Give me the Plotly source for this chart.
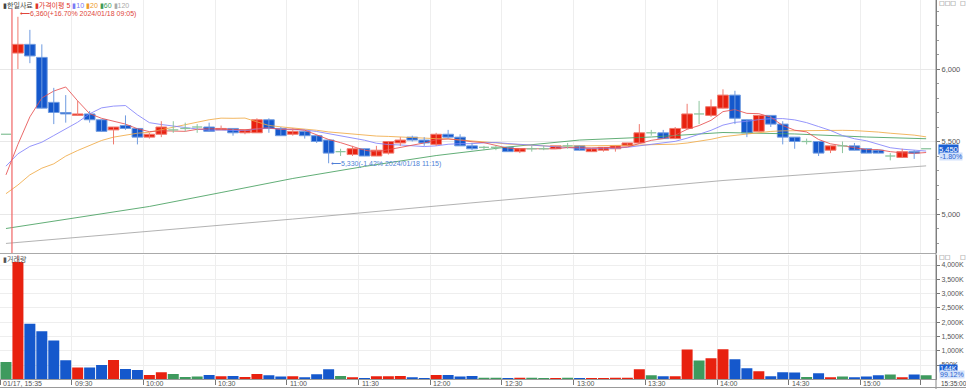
import plotly.graph_objects as go
import pandas as pd

W, H = 966, 389

# ---------------- data ----------------
bar_times = (["01/17, 15:35"]
             + [f"{h:02d}:{m:02d}" for h in range(9, 16) for m in range(0, 60, 5)
                if (9, 5) <= (h, m) <= (15, 20)]
             + ["15:30"])

tick_labels = ["01/17, 15:35", "09:30", "10:00", "10:30", "11:00", "11:30", "12:00",
               "12:30", "13:00", "13:30", "14:00", "14:30", "15:00", "15:30"]
hidden_ticks = ["15:30"]

opens = [5550, 6110, 6170, 6080, 5770, 5700, 5680, 5690, 5650, 5580,
         5610, 5590, 5530, 5550, 5580, 5590, 5600, 5600, 5580, 5590,
         5560, 5560, 5650, 5590, 5550, 5570, 5540, 5510, 5430, 5410,
         5450, 5400, 5420, 5490, 5530, 5510, 5480, 5550, 5530, 5470,
         5460, 5460, 5460, 5430, 5450, 5450, 5450, 5470, 5470, 5430,
         5440, 5450, 5470, 5490, 5560, 5560, 5520, 5590, 5690, 5680,
         5730, 5820, 5650, 5570, 5680, 5620, 5530, 5500, 5500, 5440,
         5470, 5470, 5450, 5440, 5400, 5390, 5430, 5450]
highs = [5550, 6360, 6270, 6170, 5870, 5820, 5780, 5710, 5650, 5600,
         5680, 5590, 5560, 5640, 5640, 5630, 5620, 5630, 5610, 5590,
         5580, 5660, 5660, 5600, 5590, 5570, 5540, 5510, 5450, 5470,
         5450, 5470, 5500, 5530, 5540, 5530, 5560, 5580, 5550, 5490,
         5470, 5470, 5460, 5450, 5470, 5470, 5470, 5490, 5470, 5450,
         5460, 5470, 5490, 5620, 5580, 5580, 5600, 5760, 5780, 5790,
         5860, 5850, 5650, 5680, 5680, 5640, 5530, 5520, 5500, 5470,
         5500, 5490, 5450, 5440, 5420, 5450, 5440, 5450]
lows = [5550, 6000, 6040, 5730, 5620, 5630, 5680, 5630, 5570, 5480,
        5580, 5480, 5520, 5530, 5560, 5570, 5560, 5570, 5580, 5540,
        5550, 5560, 5560, 5540, 5540, 5520, 5490, 5350, 5400, 5400,
        5400, 5400, 5410, 5470, 5500, 5470, 5470, 5520, 5470, 5440,
        5440, 5440, 5430, 5420, 5430, 5440, 5450, 5450, 5440, 5430,
        5430, 5430, 5470, 5490, 5540, 5520, 5520, 5590, 5620, 5670,
        5730, 5620, 5530, 5570, 5600, 5480, 5450, 5480, 5400, 5420,
        5420, 5440, 5420, 5420, 5370, 5390, 5380, 5450]
closes = [5550, 6170, 6090, 5730, 5700, 5690, 5690, 5650, 5570, 5600,
          5590, 5530, 5550, 5600, 5580, 5590, 5600, 5570, 5590, 5560,
          5580, 5650, 5590, 5540, 5570, 5540, 5500, 5420, 5430, 5450,
          5400, 5440, 5500, 5510, 5510, 5490, 5550, 5530, 5470, 5450,
          5460, 5460, 5430, 5450, 5450, 5450, 5470, 5470, 5440, 5450,
          5460, 5470, 5490, 5560, 5560, 5520, 5590, 5690, 5690, 5740,
          5820, 5660, 5560, 5680, 5620, 5530, 5500, 5500, 5420, 5470,
          5470, 5440, 5420, 5420, 5400, 5430, 5420, 5450]
volumes_k = [608, 4107, 1942, 1685, 1357, 667, 410, 410, 503, 679,
             363, 328, 152, 246, 187, 82, 94, 152, 105, 117,
             82, 187, 140, 94, 105, 70, 175, 351, 117, 70,
             47, 105, 105, 117, 70, 47, 152, 152, 94, 117,
             58, 58, 35, 58, 58, 35, 35, 58, 35, 35,
             35, 58, 58, 351, 140, 105, 105, 1041, 655, 737,
             1053, 702, 386, 281, 105, 246, 234, 82, 211, 70,
             94, 70, 94, 140, 164, 70, 164, 144]

# moving-average values before enough bars are on screen
ma5_head = [5270, 5480, 5670, 5800]
ma10_head = [5330, 5415, 5466, 5495, 5541, 5585, 5633, 5691, 5732]
ma20_head = [5140, 5200, 5270, 5316, 5346, 5399, 5438, 5472, 5507, 5530,
             5546, 5557, 5564, 5580, 5599, 5615, 5633, 5650, 5661]
ma60_bars = [0, 6, 12, 18, 24, 30, 36, 42, 48, 54, 60, 66, 72, 77]
ma60_vals = [4900, 4976, 5052, 5148, 5245, 5328, 5403, 5462, 5510, 5531, 5562, 5552, 5531, 5519]
ma120_bars = [0, 12, 24, 36, 48, 60, 72, 77]
ma120_vals = [4797, 4880, 4965, 5055, 5145, 5231, 5302, 5332]

high_note = "⟵6,360(+16.70% 2024/01/18 09:05)"
low_note = "⟵5,330(-1.42% 2024/01/18 11:15)"
last_price_text = "5,450"
last_change_text = "-1.80%"
last_vol_text = "144K"
last_vol_ratio_text = "99.12%"
last_time_text = "15:35:00"
corner_marks = ["□□□", "□", "□□", "□"]

# ---------------- styling ----------------
RED, RED_L = "#e8210f", "#f07a6e"
BLUE, BLUE_L = "#1558cc", "#6f9be0"
GREEN, GREEN_L = "#3e9a5e", "#8cc59e"
FONT = "Liberation Sans, Noto Sans CJK KR, sans-serif"

n = len(closes)
xc = [i + 0.5 for i in range(n)]


def kind(i):
    if closes[i] > opens[i]:
        return "up"
    if closes[i] < opens[i]:
        return "down"
    return "flat"


kinds = [kind(i) for i in range(n)]
fill_of = {"up": RED, "down": BLUE, "flat": GREEN}
edge_of = {"up": RED_L, "down": BLUE_L, "flat": GREEN_L}

cs = pd.Series(closes, dtype=float)
ma5 = ma5_head + list(cs.rolling(5).mean().iloc[len(ma5_head):])
ma10 = ma10_head + list(cs.rolling(10).mean().iloc[len(ma10_head):])
ma20 = ma20_head + list(cs.rolling(20).mean().iloc[len(ma20_head):])

fig = go.Figure()

# MA lines
ma_specs = [
    (ma120_vals, "rgba(170,170,170,0.9)", [b + 0.5 for b in ma120_bars]),
    (ma60_vals, "rgba(70,160,95,0.85)", [b + 0.5 for b in ma60_bars]),
    (ma20, "rgba(240,170,70,0.85)", xc),
    (ma10, "rgba(130,130,250,0.85)", xc),
    (ma5, "rgba(230,80,80,0.85)", xc),
]
for vals, col, xs in ma_specs:
    fig.add_trace(go.Scatter(x=xs, y=vals, mode="lines", line=dict(color=col, width=1),
                             hoverinfo="skip", showlegend=False, xaxis="x", yaxis="y"))

# wicks
for k in ["up", "down", "flat"]:
    wx, wy = [], []
    for i in range(n):
        if kinds[i] == k and highs[i] > lows[i]:
            wx += [xc[i], xc[i], None]
            wy += [lows[i], highs[i], None]
    fig.add_trace(go.Scatter(x=wx, y=wy, mode="lines", line=dict(color=edge_of[k], width=1),
                             hoverinfo="skip", showlegend=False, xaxis="x", yaxis="y"))

# doji bars
dx, dy = [], []
for i in range(n):
    if kinds[i] == "flat":
        dx += [xc[i] - 0.42, xc[i] + 0.42, None]
        dy += [opens[i], opens[i], None]
fig.add_trace(go.Scatter(x=dx, y=dy, mode="lines", line=dict(color=GREEN_L, width=1.3),
                         hoverinfo="skip", showlegend=False, xaxis="x", yaxis="y"))

# bodies
bi = [i for i in range(n) if kinds[i] != "flat"]
fig.add_trace(go.Bar(
    x=[xc[i] for i in bi],
    y=[abs(closes[i] - opens[i]) for i in bi],
    base=[min(opens[i], closes[i]) for i in bi],
    width=0.9,
    marker=dict(color=[fill_of[kinds[i]] for i in bi],
                line=dict(color=[edge_of[kinds[i]] for i in bi], width=1)),
    hoverinfo="skip", showlegend=False, xaxis="x", yaxis="y"))

# volume
fig.add_trace(go.Bar(
    x=xc, y=volumes_k, width=0.92,
    marker=dict(color=[fill_of[k] for k in kinds], line=dict(width=0)),
    hoverinfo="skip", showlegend=False, xaxis="x2", yaxis="y2"))

# ---------------- layout ----------------
X_RIGHT = 936
BAR_PX = 11.95
xr = [0, X_RIGHT / BAR_PX]
PRICE_BOTTOM_PX = 253
VOL_TOP_PX, VOL_BOTTOM_PX = 255, 379.3
VOL_MAX = 4000 * (VOL_BOTTOM_PX - VOL_TOP_PX) / (VOL_BOTTOM_PX - 265)


def pyf(px):
    return 1 - px / H


tickvals = [bar_times.index(t) for t in tick_labels]

axis_font = dict(family=FONT, size=7.5, color="#555")

fig.update_layout(
    width=W, height=H, margin=dict(l=0, r=0, t=0, b=0),
    paper_bgcolor="white", plot_bgcolor="white",
    barmode="overlay", showlegend=False,
    font=dict(family=FONT, size=8, color="#555"),
    xaxis=dict(domain=[0, X_RIGHT / W], range=xr, anchor="y", tickvals=tickvals,
               showticklabels=False, ticks="", showgrid=True, gridcolor="#eeeeee",
               gridwidth=1, zeroline=False, showline=False, fixedrange=True),
    xaxis2=dict(domain=[0, X_RIGHT / W], range=xr, anchor="y2", tickvals=tickvals,
                showticklabels=False, ticks="outside", ticklen=5, tickcolor="#777",
                showgrid=True, gridcolor="#eeeeee", zeroline=False,
                showline=True, linecolor="#999", linewidth=1),
    yaxis=dict(domain=[pyf(PRICE_BOTTOM_PX), 1],
               range=[6000 - (PRICE_BOTTOM_PX - 69) / 0.145, 6000 + 69 / 0.145],
               side="right", anchor="x", tick0=0, dtick=500, tickformat=",",
               ticks="outside", ticklen=3, tickcolor="#777", tickfont=axis_font,
               minor=dict(dtick=100, ticklen=2, tickcolor="#999", showgrid=False),
               showgrid=True, gridcolor="#e8e8e8", zeroline=False,
               showline=True, linecolor="#777"),
    yaxis2=dict(domain=[pyf(VOL_BOTTOM_PX), pyf(VOL_TOP_PX)],
                range=[0, VOL_MAX],
                side="right", anchor="x2",
                tickvals=[v for v in range(500, 4001, 500)],
                ticktext=[f"{v:,}K" for v in range(500, 4001, 500)],
                ticks="outside", ticklen=3, tickcolor="#777",
                tickfont=dict(family=FONT, size=7, color="#555"),
                showgrid=True, gridcolor="#eeeeee", zeroline=False,
                showline=True, linecolor="#777"),
)

shapes = [
    dict(type="line", xref="paper", yref="paper", x0=0, x1=X_RIGHT / W,
         y0=pyf(253.5), y1=pyf(253.5), line=dict(color="#aaaaaa", width=1)),
    dict(type="line", xref="paper", yref="paper", x0=X_RIGHT / W, x1=X_RIGHT / W,
         y0=0, y1=1, line=dict(color="#888888", width=1)),
    dict(type="line", xref="paper", yref="paper", x0=0, x1=1,
         y0=pyf(387.5), y1=pyf(387.5), line=dict(color="#999999", width=1)),
    dict(type="line", xref="x", yref="paper", x0=1, x1=1, y0=pyf(PRICE_BOTTOM_PX), y1=pyf(9),
         line=dict(color="rgba(240,100,100,0.8)", width=1.5)),
    dict(type="line", xref="x2", yref="y2", x0=xc[1], x1=xc[1], y0=volumes_k[1],
         y1=VOL_MAX, line=dict(color="rgba(240,100,100,0.8)", width=1)),
]
fig.update_layout(shapes=shapes)

legend_html = ("<span style='color:#444'>▮한일사료</span> "
               "<span style='color:#e0352b'>▮가격이평 5</span> "
               "<span style='color:#7a7af5'>▮10</span> "
               "<span style='color:#ee9a2a'>▮20</span> "
               "<span style='color:#3f9a55'>▮60</span> "
               "<span style='color:#aaaaaa'>▮120</span>")

hi_idx = highs.index(max(highs))
lo_idx = lows.index(min(lows))

ann = [
    dict(text=legend_html, xref="paper", yref="paper", x=1 / W, y=pyf(5),
         xanchor="left", yanchor="middle", showarrow=False,
         font=dict(family=FONT, size=7)),
    dict(text=high_note, xref="x", yref="y", x=xc[hi_idx], y=highs[hi_idx], yshift=3,
         xanchor="left", yanchor="middle", showarrow=False,
         font=dict(family=FONT, size=7, color="#e0453a")),
    dict(text=low_note, xref="x", yref="y", x=xc[lo_idx], y=lows[lo_idx], yshift=-1,
         xanchor="left", yanchor="middle", showarrow=False,
         font=dict(family=FONT, size=7, color="#4f7fd6")),
    dict(text="<span style='color:#555'>▮거래량</span>", xref="paper", yref="paper",
         x=1 / W, y=pyf(259), xanchor="left", yanchor="middle", showarrow=False,
         font=dict(family=FONT, size=7)),
    dict(text=last_price_text, xref="paper", yref="y", x=938 / W, y=closes[-1], yshift=-1,
         xanchor="left", yanchor="middle", showarrow=False, bgcolor="#1b5fd3",
         borderpad=0, font=dict(family=FONT, size=7.5, color="white")),
    dict(text=last_change_text, xref="paper", yref="y", x=939 / W, y=closes[-1], yshift=-8,
         xanchor="left", yanchor="middle", showarrow=False, bgcolor="#d3e2fb",
         borderpad=0, font=dict(family=FONT, size=7, color="#2a62cf")),
    dict(text=last_vol_text, xref="paper", yref="y2", x=939 / W, y=volumes_k[-1], yshift=7,
         xanchor="left", yanchor="middle", showarrow=False, bgcolor="#1b5fd3",
         borderpad=0, font=dict(family=FONT, size=7, color="white")),
    dict(text=last_vol_ratio_text, xref="paper", yref="y2", x=939 / W, y=volumes_k[-1], yshift=0.5,
         xanchor="left", yanchor="middle", showarrow=False, bgcolor="#d3e2fb",
         borderpad=0, font=dict(family=FONT, size=7, color="#2a62cf")),
    dict(text=last_time_text, xref="paper", yref="paper", x=938.5 / W, y=pyf(383.5),
         xanchor="left", yanchor="middle", showarrow=False,
         font=dict(family=FONT, size=6.5, color="#444")),
    dict(text=corner_marks[0], xref="paper", yref="paper", x=937 / W, y=pyf(3),
         xanchor="left", yanchor="middle", showarrow=False,
         font=dict(family="DejaVu Sans", size=6, color="#666")),
    dict(text=corner_marks[1], xref="paper", yref="paper", x=958 / W, y=pyf(3),
         xanchor="left", yanchor="middle", showarrow=False,
         font=dict(family="DejaVu Sans", size=6, color="#666")),
    dict(text=corner_marks[2], xref="paper", yref="paper", x=937 / W, y=pyf(256.5),
         xanchor="left", yanchor="middle", showarrow=False,
         font=dict(family="DejaVu Sans", size=6, color="#666")),
    dict(text=corner_marks[3], xref="paper", yref="paper", x=958 / W, y=pyf(256.5),
         xanchor="left", yanchor="middle", showarrow=False,
         font=dict(family="DejaVu Sans", size=6, color="#666")),
]
for t, v in zip(tick_labels, tickvals):
    if t in hidden_ticks:
        continue
    ann.append(dict(text=t, xref="x2", yref="paper", x=v, y=pyf(383.5), xshift=1,
                    xanchor="left", yanchor="middle", showarrow=False,
                    font=dict(family=FONT, size=7, color="#555")))
fig.update_layout(annotations=ann)

fig.write_html("out.html", config={"displayModeBar": False},
               post_script="document.body.style.margin='0';")
